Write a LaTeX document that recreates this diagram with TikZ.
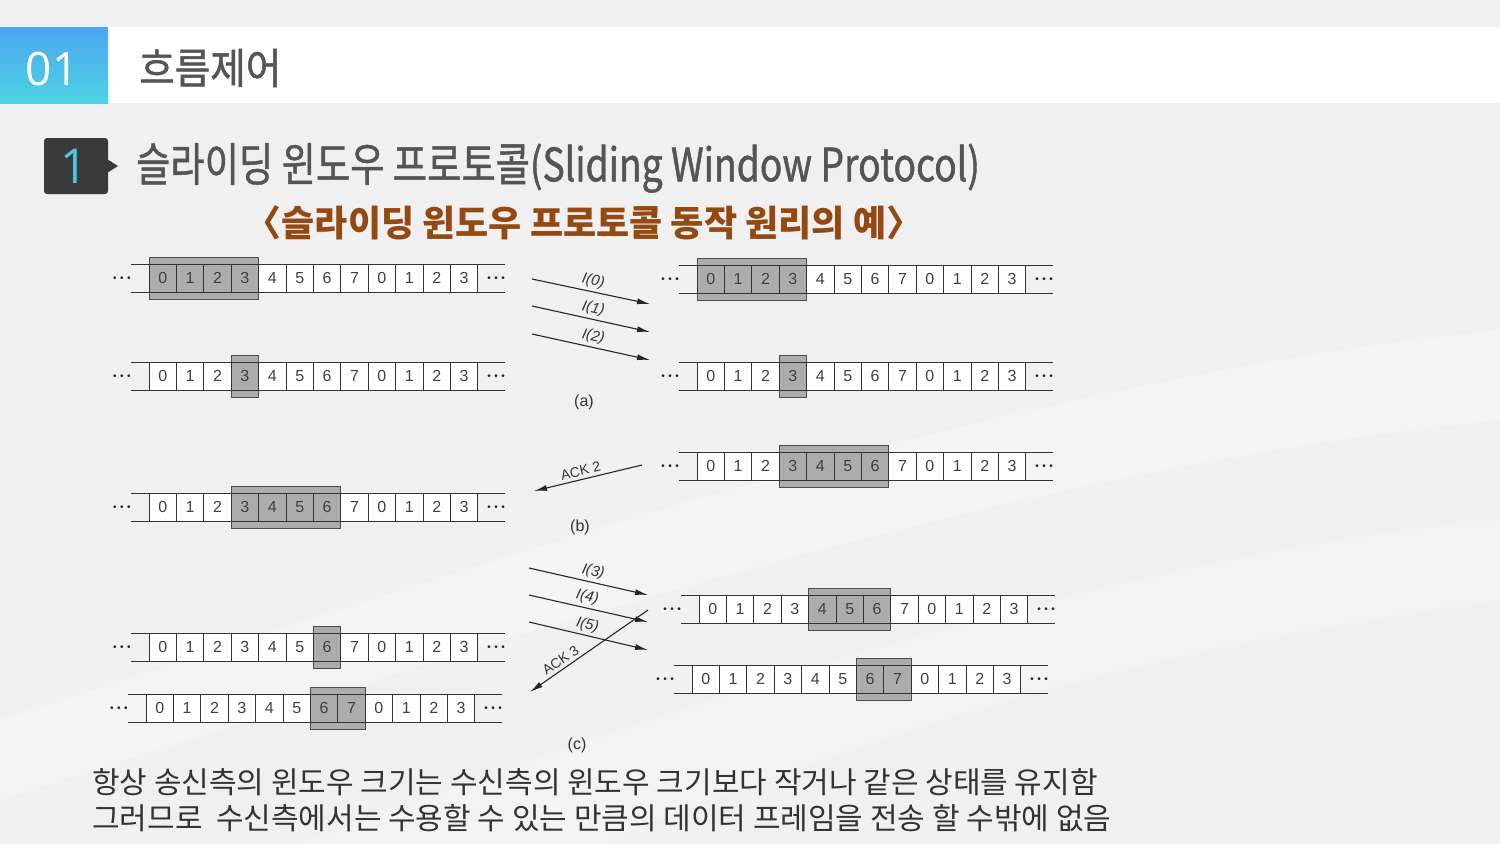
\documentclass[tikz,border=0pt]{standalone}
\usepackage{fontspec}
\setsansfont{Liberation Sans}
\newfontfamily\krhead[FakeStretch=0.92,FakeBold=1.2]{Noto Sans CJK KR}
\newfontfamily\krtitle[FakeStretch=0.81,FakeBold=1]{Noto Sans CJK KR}
\newfontfamily\krsub[FakeStretch=1.0]{Noto Sans CJK KR}
\newfontfamily\krbody[FakeStretch=1.0]{Noto Sans CJK KR}
\newfontfamily\numfont{Open Sans}
\usepackage{xcolor}
\usetikzlibrary{shapes,positioning,arrows.meta}

\definecolor{bggray}{RGB}{240,240,240}
\definecolor{wingray}{RGB}{172,172,172}
\definecolor{txtgray}{RGB}{85,85,85}
\definecolor{badge}{RGB}{58,58,58}
\definecolor{cyanone}{RGB}{78,196,222}
\definecolor{brownsub}{RGB}{148,72,18}
\definecolor{blueA}{RGB}{76,166,240}
\definecolor{blueB}{RGB}{78,210,228}

% one row of sequence numbers: prefix, left x, centre y, first and last window cell
\newcommand{\winstrip}[5]{%
  \draw[stripline] (#2-18,#3-14) -- (#2+356,#3-14);
  \draw[stripline] (#2-18,#3+14) -- (#2+356,#3+14);
  \draw[winbox] (#2+#4*27.4,#3-21) rectangle (#2+#5*27.4+27.4,#3+21);
  \foreach \i in {0,...,11}{
    \pgfmathtruncatemacro\lab{mod(\i,8)}
    \ifnum\i<#4\relax \def\cfill{white}\else
      \ifnum\i>#5\relax \def\cfill{white}\else \def\cfill{wingray}\fi\fi
    \node[cell, fill=\cfill] (#1-\i) at ({#2+\i*27.4+13.7},#3) {\lab};
  }
  \node[dots] (#1-l) at (#2-27,#3+1) {\threedots};
  \node[dots] (#1-r) at (#2+347,#3+1) {\threedots};
}
\newcommand{\threedots}{\textbullet\hspace{3.5pt}\textbullet\hspace{3.5pt}\textbullet}

\begin{document}
\begin{tikzpicture}[
    % Define node styles
    x=1pt, y=-1pt,
    cell/.style={rectangle, draw=black!80, line width=0.8pt, minimum width=27.4pt, minimum height=28pt, inner sep=0pt, text=black!75, font=\sffamily\fontsize{16}{16}\selectfont},
    stripline/.style={draw=black!80, line width=0.8pt},
    winbox/.style={fill=wingray, draw=black!70, line width=1pt},
    dots/.style={inner sep=0pt, text=black!85, font=\sffamily\fontsize{10}{10}\selectfont},
    msg/.style={-{Latex[length=13pt,width=6pt]}, line width=1.1pt, draw=black!85},
    lbl/.style={inner sep=1pt, above=2pt, sloped, text=black!80, font=\sffamily\itshape\fontsize{15}{15}\selectfont},
    ack/.style={inner sep=1pt, above=2pt, sloped, text=black!80, font=\sffamily\fontsize{14}{14}\selectfont},
    figcap/.style={text=black!80, font=\sffamily\fontsize{16}{16}\selectfont},
]
\useasboundingbox (0,0) rectangle (1500,844);
\fill[bggray] (0,0) rectangle (1500,844);
% soft swooshes of the slide background
\fill[white, opacity=0.3] (0,720) .. controls (500,560) and (1000,380) .. (1500,330) -- (1500,420) .. controls (1000,470) and (500,640) .. (0,800) -- cycle;
\fill[white, opacity=0.25] (300,844) .. controls (700,700) and (1100,560) .. (1500,520) -- (1500,600) .. controls (1100,650) and (800,760) .. (600,844) -- cycle;

% Header band
\fill[white] (108,27) rectangle (1500,103);
\shade[top color=blueA, bottom color=blueB] (0,27) rectangle (108,103);
\node[text=white, font=\numfont\fontsize{46}{46}\selectfont] (secNo) at (52,69) {01};
\node[anchor=west, inner sep=0pt, text=txtgray, font=\krhead\fontsize{42}{42}\selectfont] (head) at (139,68) {흐름제어};

% Section title
\fill[badge, rounded corners=3pt] (44,138) rectangle (108,194);
\fill[badge] (107,159) -- (118,166) -- (107,173) -- cycle;
\node[text=cyanone, font=\numfont\fontsize{48}{48}\selectfont] (subNo) at (74,166) {1};
\node[anchor=west, inner sep=0pt, text=txtgray, font=\krtitle\fontsize{46}{46}\selectfont] (title) at (136,168) {슬라이딩 윈도우 프로토콜(Sliding Window Protocol)};
\node[text=brownsub, font=\krsub\bfseries\fontsize{36}{36}\selectfont] (subtitle) at (584,223) {〈슬라이딩 윈도우 프로토콜 동작 원리의 예〉};

% (a)
\winstrip{aS1}{149}{278}{0}{3}
\winstrip{aS2}{149}{376}{3}{3}
\winstrip{aR1}{697}{279}{0}{3}
\winstrip{aR2}{697}{376}{3}{3}
\coordinate (f0s) at (532,279); \coordinate (f0e) at (650,304);
\coordinate (f1s) at (532,306); \coordinate (f1e) at (650,332);
\coordinate (f2s) at (532,334); \coordinate (f2e) at (650,360);
\draw[msg] (f0s) -- node[lbl] {I(0)} (f0e);
\draw[msg] (f1s) -- node[lbl] {I(1)} (f1e);
\draw[msg] (f2s) -- node[lbl] {I(2)} (f2e);
\node[figcap] (capA) at (584,402) {(a)};

% (b)
\winstrip{bR}{697}{466}{3}{6}
\winstrip{bS}{149}{507}{3}{6}
\coordinate (k2s) at (642,465); \coordinate (k2e) at (534,491);
\draw[msg] (k2s) -- node[ack, pos=0.55] {ACK 2} (k2e);
\node[figcap] (capB) at (580,527) {(b)};

% (c)
\winstrip{cS1}{149}{647}{6}{6}
\winstrip{cS2}{146}{708}{6}{7}
\winstrip{cR1}{699}{609}{4}{6}
\winstrip{cR2}{692}{679}{6}{7}
\coordinate (f3s) at (529,568); \coordinate (f3e) at (648,595);
\coordinate (f4s) at (529,595); \coordinate (f4e) at (648,622);
\coordinate (f5s) at (529,622); \coordinate (f5e) at (648,650);
\coordinate (k3s) at (648,610); \coordinate (k3e) at (530,692);
\draw[msg] (f3s) -- node[lbl, pos=0.52] {I(3)} (f3e);
\draw[msg] (f4s) -- node[lbl, pos=0.47] {I(4)} (f4e);
\draw[msg] (f5s) -- node[lbl, pos=0.47] {I(5)} (f5e);
\draw[msg] (k3s) -- node[ack, pos=0.7] {ACK 3} (k3e);
\node[figcap] (capC) at (577,745) {(c)};

% Notes
\node[anchor=west, inner sep=0pt, text=black!80, font=\krbody\fontsize{30}{30}\selectfont] (note1) at (92,782) {항상 송신측의 윈도우 크기는 수신측의 윈도우 크기보다 작거나 같은 상태를 유지함};
\node[anchor=west, inner sep=0pt, text=black!80, font=\krbody\fontsize{30}{30}\selectfont] (note2) at (92,818) {그러므로~~수신측에서는 수용할 수 있는 만큼의 데이터 프레임을 전송 할 수밖에 없음};

\end{tikzpicture}
\end{document}
